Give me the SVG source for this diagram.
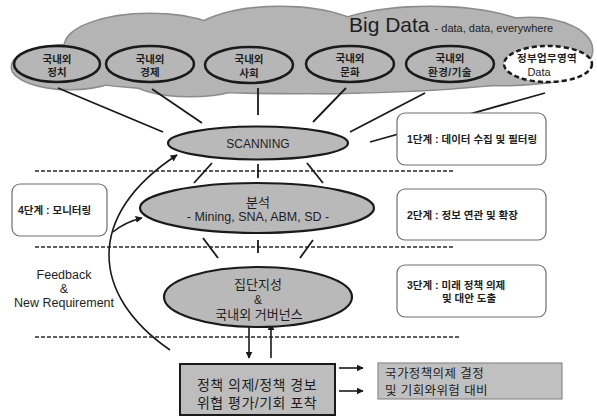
<svg xmlns="http://www.w3.org/2000/svg" xmlns:xlink="http://www.w3.org/1999/xlink" width="597" height="416" viewBox="0 0 597 416">
  <style>
    text { font-family: "Liberation Sans", "Noto Sans CJK KR", sans-serif; fill: #1e1e1e; }
    .cloud-edge { fill: #b4b4b4; stroke: #8c8c8c; stroke-width: 3; }
    .cloud-fill { fill: #b4b4b4; stroke: none; }
    .src { fill: #b6b6b6; stroke: #1a1a1a; stroke-width: 2.5; }
    .src-dash { fill: #ffffff; stroke: #1a1a1a; stroke-width: 2.5; stroke-dasharray: 5 3; }
    .stage-ell { fill: #b9b9b9; stroke: #1a1a1a; stroke-width: 2.2; }
    .src-label { font-size: 10.5px; font-weight: bold; text-anchor: middle; }
    .link { stroke: #1a1a1a; stroke-width: 1.8; fill: none; }
    .arrow { stroke: #1a1a1a; stroke-width: 1.6; fill: none; marker-end: url(#head); }
    .divider { stroke: #2a2a2a; stroke-width: 1.5; stroke-dasharray: 4 2; }
    .step { fill: #ffffff; stroke: #6e6e6e; stroke-width: 1.2; }
    .step-label { font-size: 10.5px; font-weight: bold; }
  </style>
  <defs>
    <marker id="head" viewBox="0 0 10 10" refX="9" refY="5" markerWidth="7" markerHeight="7" orient="auto" markerUnits="userSpaceOnUse">
      <path d="M0,0 L10,5 L0,10 Z" fill="#1a1a1a"/>
    </marker>
    <!-- overlapping lobes that together form the cloud -->
    <g id="cloudShape">
      <ellipse cx="70" cy="67" rx="58" ry="22"/>
      <ellipse cx="150" cy="46" rx="85" ry="32"/>
      <ellipse cx="280" cy="40" rx="92" ry="33"/>
      <ellipse cx="430" cy="40" rx="112" ry="33"/>
      <ellipse cx="530" cy="50" rx="62" ry="32"/>
      <ellipse cx="300" cy="72" rx="240" ry="21"/>
      <ellipse cx="190" cy="78" rx="60" ry="18"/>
      <ellipse cx="330" cy="76" rx="80" ry="17"/>
      <ellipse cx="500" cy="70" rx="82" ry="15"/>
    </g>
  </defs>

  <rect width="597" height="416" fill="#ffffff"/>

  <!-- Big Data cloud -->
  <g id="cloud">
    <use xlink:href="#cloudShape" class="cloud-edge"/>
    <use xlink:href="#cloudShape" class="cloud-fill"/>
    <text x="349" y="32" font-size="21">Big Data<tspan font-size="11" dx="5">- data, data, everywhere</tspan></text>
  </g>

  <!-- stage dividers -->
  <g id="dividers">
    <line class="divider" x1="35" y1="171" x2="454" y2="171"/>
    <line class="divider" x1="35" y1="247" x2="455" y2="247"/>
    <line class="divider" x1="35" y1="337" x2="459" y2="337"/>
  </g>

  <!-- connectors -->
  <g id="connectors">
    <line class="link" x1="58" y1="88" x2="163" y2="132"/>
    <line class="link" x1="152" y1="89" x2="202" y2="123"/>
    <line class="link" x1="258" y1="88" x2="258" y2="115"/>
    <line class="link" x1="346" y1="88" x2="313" y2="122"/>
    <line class="link" x1="425" y1="93" x2="350" y2="132"/>
    <line class="link" x1="545" y1="93" x2="370" y2="142"/>

    <line class="link" x1="212" y1="163" x2="194" y2="183"/>
    <line class="link" x1="258" y1="164" x2="258" y2="178"/>
    <line class="link" x1="307" y1="163" x2="323" y2="183"/>

    <line class="link" x1="203" y1="238" x2="218" y2="258"/>
    <line class="link" x1="258" y1="240" x2="258" y2="253"/>
    <line class="link" x1="313" y1="240" x2="300" y2="258"/>

    <line class="arrow" x1="249" y1="327" x2="249" y2="358"/>
    <line class="arrow" x1="271" y1="358" x2="271" y2="324"/>

    <line class="arrow" x1="339" y1="368" x2="363" y2="368"/>
    <line class="arrow" x1="339" y1="391" x2="363" y2="391"/>

    <!-- feedback loop -->
    <path class="arrow" d="M170,350 C90,295 85,215 177,155"/>
    <path class="arrow" d="M113,232 Q125,222 142,218"/>
  </g>

  <!-- data sources -->
  <g id="src-politics">
    <ellipse class="src" cx="57" cy="64" rx="43" ry="18"/>
    <text class="src-label" x="57" y="63">국내외</text>
    <text class="src-label" x="57" y="76">정치</text>
  </g>
  <g id="src-economy">
    <ellipse class="src" cx="150" cy="64" rx="44" ry="18"/>
    <text class="src-label" x="150" y="63">국내외</text>
    <text class="src-label" x="150" y="76">경제</text>
  </g>
  <g id="src-society">
    <ellipse class="src" cx="249" cy="65" rx="44" ry="18"/>
    <text class="src-label" x="249" y="63">국내외</text>
    <text class="src-label" x="249" y="77">사회</text>
  </g>
  <g id="src-culture">
    <ellipse class="src" cx="350" cy="64" rx="44" ry="18"/>
    <text class="src-label" x="350" y="62">국내외</text>
    <text class="src-label" x="350" y="76">문화</text>
  </g>
  <g id="src-environment">
    <ellipse class="src" cx="450" cy="64" rx="44" ry="18"/>
    <text class="src-label" x="450" y="62">국내외</text>
    <text class="src-label" x="450" y="76" letter-spacing="0.5">환경/기술</text>
  </g>
  <g id="src-government">
    <ellipse class="src-dash" cx="548" cy="64" rx="44" ry="18"/>
    <text class="src-label" x="547" y="62" font-size="11" letter-spacing="0.3">정부업무영역</text>
    <text x="539" y="76" font-size="11" text-anchor="middle">Data</text>
  </g>

  <!-- processing stages -->
  <g id="scanning">
    <ellipse class="stage-ell" cx="258" cy="143" rx="90" ry="16.5"/>
    <text x="258" y="147.5" font-size="12" text-anchor="middle">SCANNING</text>
  </g>
  <g id="analysis">
    <ellipse class="stage-ell" cx="257" cy="208" rx="117" ry="25"/>
    <text x="258" y="207" font-size="13" text-anchor="middle">분석</text>
    <text x="258" y="220.5" font-size="12.5" text-anchor="middle">- Mining, SNA, ABM, SD -</text>
  </g>
  <g id="intelligence">
    <ellipse class="stage-ell" cx="258" cy="297" rx="94" ry="30"/>
    <text x="258" y="288.5" font-size="13" text-anchor="middle">집단지성</text>
    <text x="258" y="304" font-size="12" text-anchor="middle">&amp;</text>
    <text x="259" y="318.5" font-size="13" text-anchor="middle">국내외 거버넌스</text>
  </g>
  <g id="policy">
    <rect x="180" y="364" width="155" height="51" fill="#bdbdbd" stroke="#1a1a1a" stroke-width="2"/>
    <text x="257" y="390" font-size="14" text-anchor="middle" letter-spacing="0.5">정책 의제/정책 경보</text>
    <text x="257" y="408" font-size="14" text-anchor="middle" letter-spacing="0.5">위협 평가/기회 포착</text>
  </g>
  <g id="outcome">
    <rect x="378" y="363" width="184" height="36" fill="#c0c0c0" stroke="#8a8a8a" stroke-width="1.2"/>
    <text x="385" y="377.5" font-size="12.5" letter-spacing="0.4">국가정책의제 결정</text>
    <text x="385" y="394.5" font-size="12.5" letter-spacing="0.4">및 기회와위험 대비</text>
  </g>

  <!-- stage descriptions -->
  <g id="step1">
    <rect class="step" x="397" y="113" width="149" height="52" rx="8"/>
    <text class="step-label" x="407" y="143">1단계 : 데이터 수집 및 필터링</text>
  </g>
  <g id="step2">
    <rect class="step" x="397" y="189" width="149" height="51" rx="8"/>
    <text class="step-label" x="407" y="219">2단계 : 정보 연관 및 확장</text>
  </g>
  <g id="step3">
    <rect class="step" x="397" y="265" width="149" height="52" rx="8"/>
    <text class="step-label" x="407" y="289">3단계 : 미래 정책 의제</text>
    <text class="step-label" x="442" y="302">및 대안 도출</text>
  </g>
  <g id="step4">
    <rect class="step" x="12" y="184" width="95" height="52" rx="8"/>
    <text class="step-label" x="18" y="214">4단계 : 모니터링</text>
  </g>

  <!-- feedback label -->
  <g id="feedback">
    <text x="64" y="279" font-size="12.5" text-anchor="middle">Feedback</text>
    <text x="64" y="293" font-size="12.5" text-anchor="middle">&amp;</text>
    <text x="64" y="307" font-size="12.5" text-anchor="middle">New Requirement</text>
  </g>
</svg>
